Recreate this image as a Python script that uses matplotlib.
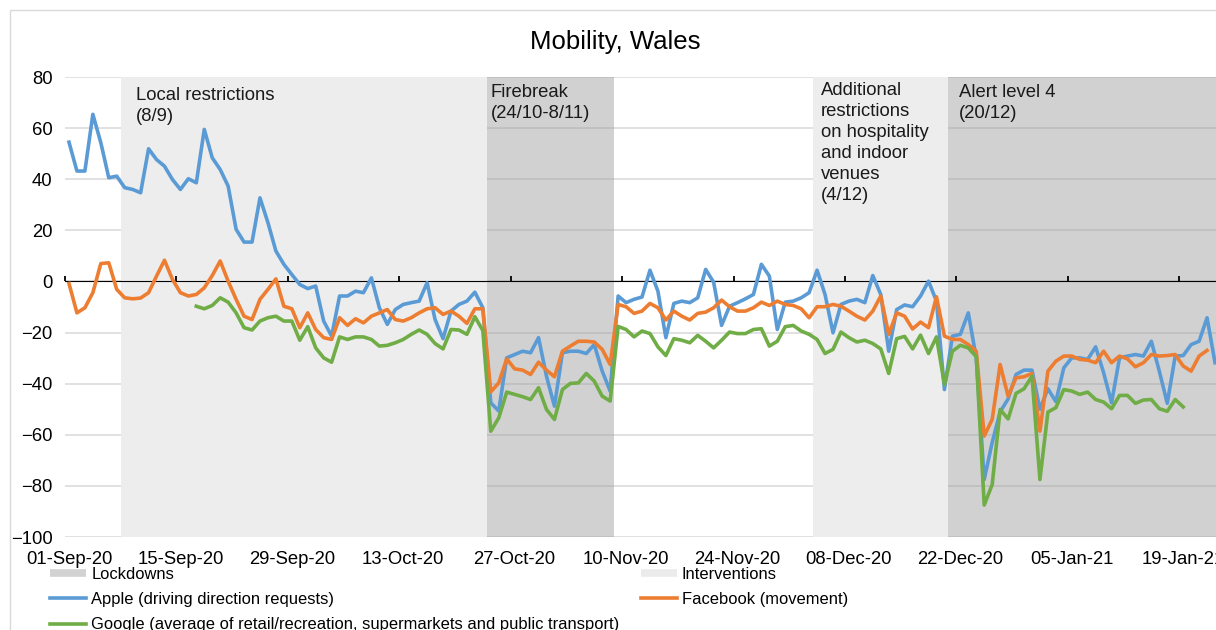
import numpy as np
import pandas as pd
import matplotlib
matplotlib.use('Agg')
import matplotlib.pyplot as plt
from matplotlib.lines import Line2D
from matplotlib.patches import Rectangle

plt.rcParams['font.family'] = ['Liberation Sans', 'DejaVu Sans']

# daily values from 01-Sep-20
apple = [54.5, 43.2, 43.2, 65.4, 54.3, 40.6, 41.2, 36.7, 36.0, 34.7,
         51.9, 47.7, 45.1, 39.9, 36.0, 40.2, 38.6, 59.5, 48.4, 43.8,
         37.3, 20.4, 15.4, 15.4, 32.7, 23.0, 11.9, 6.7, 2.7, -1.2,
         -2.8, -1.8, -15.5, -21.4, -5.7, -5.7, -3.8, -4.4, 1.4, -10.3,
         -16.8, -11.0, -9.0, -8.3, -7.7, -0.5, -14.9, -22.4, -11.6, -9.0,
         -7.7, -4.2, -10.3, -47.5, -50.7, -29.9, -28.6, -27.3, -27.9, -22.0,
         -37.1, -48.8, -27.9, -27.3, -27.3, -28.2, -24.7, -35.1, -42.9, -5.7,
         -8.3, -7.0, -6.1, 4.4, -3.8, -22.0, -8.6, -7.7, -8.3, -6.4,
         4.7, -0.3, -17.2, -9.7, -8.3, -6.8, -5.1, 6.7, 2.1, -18.8,
         -8.1, -7.7, -6.4, -4.4, 4.4, -5.1, -20.1, -9.0, -7.7, -7.0,
         -8.3, 2.3, -5.1, -27.3, -11.0, -9.2, -9.9, -5.7, 0.1, -7.7,
         -42.3, -21.4, -20.7, -12.3, -30.0, -77.5, -63.0, -51.0, -46.0, -36.4,
         -34.7, -34.7, -50.0, -42.0, -47.0, -33.8, -29.9, -29.9, -30.5, -25.6,
         -35.7, -47.5, -29.9, -29.2, -28.6, -29.2, -23.4, -35.1, -47.7, -29.2,
         -29.0, -24.7, -23.4, -14.2, -31.8]

facebook = [-0.8, -12.3, -10.3, -4.4, 7.0, 7.3, -3.1, -6.4, -6.8, -6.5,
            -4.4, 2.1, 8.3, 0.8, -4.4, -5.7, -5.1, -2.5, 2.3, 8.0,
            0.1, -7.0, -13.6, -14.9, -7.0, -3.1, 1.0, -9.7, -10.7, -18.1,
            -12.3, -18.8, -22.0, -22.7, -14.2, -17.2, -14.6, -16.2, -13.6, -12.3,
            -11.0, -14.9, -15.5, -14.2, -12.3, -10.7, -10.3, -12.9, -11.6, -13.6,
            -16.4, -10.7, -10.7, -43.2, -39.7, -30.3, -34.2, -34.7, -36.4, -31.6,
            -34.7, -37.3, -27.3, -25.3, -23.4, -23.4, -23.7, -26.6, -32.5, -9.0,
            -9.9, -12.5, -11.6, -8.6, -10.3, -15.1, -11.6, -13.6, -15.1, -12.5,
            -12.0, -10.3, -7.3, -9.9, -11.6, -11.6, -10.3, -8.1, -9.4, -7.7,
            -9.0, -9.4, -10.7, -14.2, -9.9, -9.9, -9.0, -9.7, -11.6, -13.6,
            -15.1, -11.6, -5.7, -20.7, -12.3, -13.6, -18.6, -15.9, -18.1, -6.0,
            -21.4, -22.7, -22.7, -24.7, -27.3, -60.5, -54.0, -32.5, -44.9, -37.7,
            -37.3, -36.0, -58.6, -35.1, -31.2, -29.2, -29.2, -30.5, -30.8, -31.8,
            -27.3, -31.8, -29.2, -30.3, -33.4, -31.8, -28.6, -29.2, -29.0, -28.6,
            -33.1, -35.1, -29.2, -27.0]

google_start = 16  # first day with Google data (17-Sep-20)
google = [-9.7, -10.7, -9.4, -6.4,
          -8.1, -12.3, -18.1, -19.0, -15.5, -14.2, -13.6, -15.5, -15.5, -23.0,
          -17.7, -26.0, -29.9, -31.6, -21.7, -22.7, -21.7, -21.7, -22.7, -25.3,
          -25.0, -24.0, -22.7, -20.7, -19.0, -20.7, -24.3, -26.4, -18.8, -19.0,
          -20.7, -13.8, -19.2, -58.6, -53.4, -43.3, -44.2, -45.1, -46.2, -41.6,
          -50.1, -54.0, -42.3, -39.9, -39.7, -36.0, -39.0, -44.9, -46.8, -17.6,
          -18.8, -21.7, -19.4, -20.4, -25.6, -29.0, -22.4, -23.0, -24.0, -21.1,
          -23.4, -26.0, -23.0, -19.8, -20.4, -20.4, -18.8, -18.5, -25.3, -23.4,
          -17.7, -17.2, -19.4, -20.7, -22.7, -28.2, -26.6, -19.8, -22.0, -23.7,
          -23.0, -24.3, -26.4, -36.0, -22.4, -21.5, -26.4, -21.0, -28.2, -21.7,
          -40.3, -27.3, -25.0, -26.0, -29.5, -87.5, -79.5, -50.1, -53.8, -43.8,
          -42.0, -37.1, -77.5, -51.1, -49.4, -42.3, -42.9, -44.2, -43.3, -46.2,
          -47.2, -49.8, -44.6, -44.6, -47.7, -46.4, -46.2, -49.8, -50.8, -46.2,
          -49.1]

# periods as day offsets from 01-Sep-20: (start, end, kind, label)
periods = [(7, 53, 'Interventions', 'Local restrictions\n(8/9)'),
           (53, 69, 'Lockdowns', 'Firebreak\n(24/10-8/11)'),
           (94, 111, 'Interventions', 'Additional\nrestrictions\non hospitality\nand indoor\nvenues\n(4/12)'),
           (111, 145, 'Lockdowns', 'Alert level 4\n(20/12)')]
label_x = [8.9, 53.5, 95.0, 112.3]
label_y = [76.2, 77.3, 78.0, 77.3]

dates = pd.date_range('2020-09-01', periods=len(apple))
n = len(apple)

fig = plt.figure(figsize=(12.16, 6.3), dpi=100)
W, H = 1216, 630
ax = fig.add_axes([65 / W, 1 - 537 / H, (1219 - 65) / W, (537 - 77) / H])

ymin, ymax = -100, 80
ax.set_xlim(0, n)
ax.set_ylim(ymin, ymax)

for (s, e, kind, lab), tx, ty in zip(periods, label_x, label_y):
    if kind == 'Lockdowns':
        ax.axvspan(s, e, color='#9F9F9F', alpha=0.47, lw=0, zorder=1)
    else:
        ax.axvspan(s, e, color='#EDEDED', lw=0, zorder=1)
    ax.text(tx, ty, lab, ha='left', va='top', fontsize=13.3, color='#1a1a1a',
            linespacing=1.3, zorder=5)

ax.set_axisbelow(True)
ax.yaxis.grid(True, color='#D9D9D9', lw=1.1)
ax.set_yticks(np.arange(-100, 81, 20))
ax.tick_params(axis='y', length=0, pad=9, labelsize=13.3)
for sp in ax.spines.values():
    sp.set_visible(False)

x = np.arange(n) + 0.5
ax.plot(x, apple, color='#5B9BD5', lw=2.6, zorder=4)
ax.plot(x[:len(facebook)], facebook, color='#ED7D31', lw=2.6, zorder=4)
ax.plot(x[google_start:google_start + len(google)], google, color='#70AD47', lw=2.6, zorder=4)

# labels centred on the days, tick marks on the zero line
lab_days = np.arange(0, n, 14)
ax.set_xticks(lab_days + 0.5, dates[lab_days].strftime('%d-%b-%y'))
ax.tick_params(axis='x', length=0, pad=10, labelsize=13.3)

sec = ax.secondary_xaxis((0 - ymin) / (ymax - ymin))
sec.set_zorder(3)
sec.set_xticks(lab_days, [''] * len(lab_days))
sec.tick_params(axis='x', direction='out', length=3.5, width=1.3, color='black')
sec.spines['bottom'].set_color('black')
sec.spines['bottom'].set_linewidth(1.4)

fig.text(615 / W, 1 - 42 / H, 'Mobility, Wales', ha='center', va='center', fontsize=18.5)

fig.add_artist(Rectangle((10 / W, -0.1), 1.2, 1.1 - 10 / H, transform=fig.transFigure,
                         fill=False, edgecolor='#D9D9D9', lw=1))

handles = [Line2D([], [], color='#D2D2D2', lw=5.5, solid_capstyle='butt'),
           Line2D([], [], color='#5B9BD5', lw=2.6),
           Line2D([], [], color='#70AD47', lw=2.6),
           Line2D([], [], color='#EBEBEB', lw=5.5, solid_capstyle='butt'),
           Line2D([], [], color='#ED7D31', lw=2.6)]
labels = ['Lockdowns', 'Apple (driving direction requests)',
          'Google (average of retail/recreation, supermarkets and public transport)',
          'Interventions', 'Facebook (movement)']
fig.legend(handles, labels, loc='upper left', bbox_to_anchor=(50 / W, 1 - 567 / H),
           ncol=2, frameon=False, borderpad=0, borderaxespad=0, handlelength=2.2,
           handletextpad=0.3, labelspacing=0.62, columnspacing=1.3, fontsize=11.85)

fig.savefig('out.png', dpi=100)
